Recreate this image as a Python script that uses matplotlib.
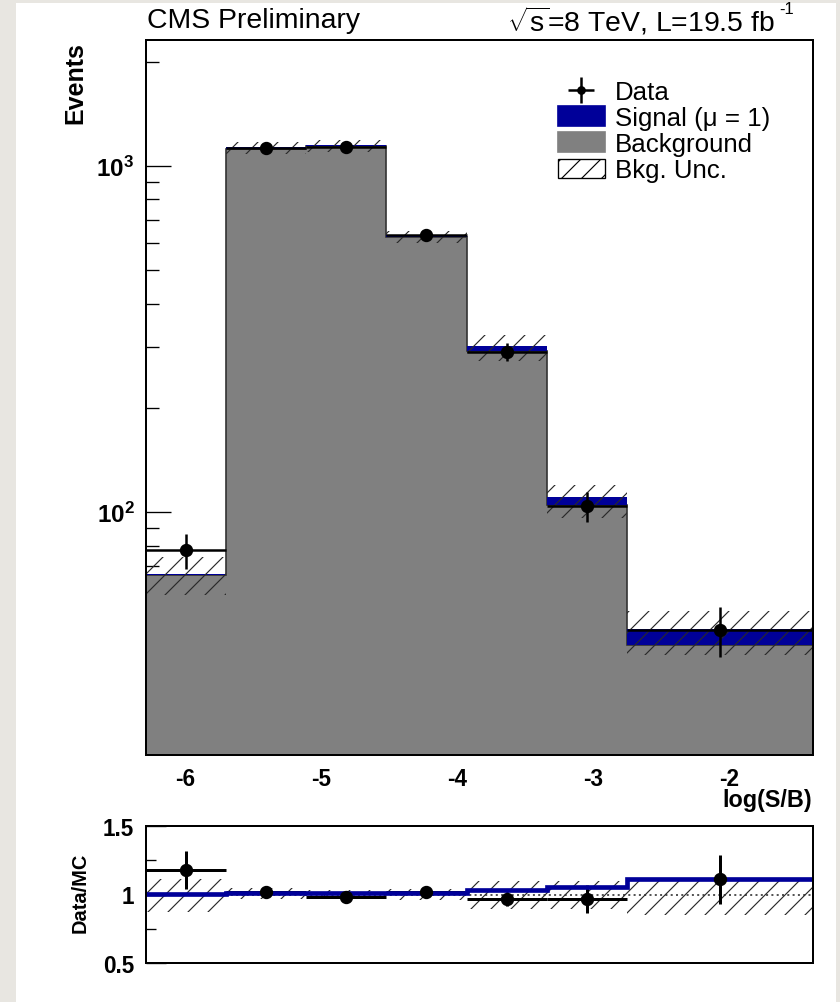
import numpy as np
import matplotlib
matplotlib.use("Agg")
import matplotlib.pyplot as plt
from matplotlib.patches import Patch, Rectangle
from matplotlib.ticker import FixedLocator, NullFormatter, LogLocator, FuncFormatter

plt.rcParams['font.family'] = ['Liberation Sans', 'DejaVu Sans']
plt.rcParams['mathtext.fontset'] = 'custom'
plt.rcParams['mathtext.rm'] = 'Liberation Sans'
plt.rcParams['mathtext.it'] = 'Liberation Sans'
plt.rcParams['mathtext.bf'] = 'Liberation Sans:bold'
plt.rcParams['axes.unicode_minus'] = False
plt.rcParams['hatch.linewidth'] = 0.7
plt.rcParams['hatch.color'] = '#2a2a2a'

# bins in log(S/B)
edges = np.array([-6.29, -5.70, -5.11, -4.52, -3.93, -3.34, -2.75, -1.38])
bkg = np.array([66.0, 1120.0, 1140.0, 622.0, 292.0, 105.0, 41.3])
sig = np.array([0.3, 13.0, 9.0, 9.0, 10.0, 6.0, 4.6])
band_up = np.array([74.0, 1170.0, 1185.0, 650.0, 325.0, 120.0, 52.0])
band_dn = np.array([57.5, 1080.0, 1100.0, 600.0, 273.0, 96.0, 38.8])
data = np.array([77.6, 1128.0, 1135.0, 631.0, 291.0, 104.0, 45.7])
data_err = np.array([9.0, 34.0, 34.0, 25.0, 17.0, 10.0, 7.4])

# ratio panel
ratio = np.array([1.18, 1.02, 0.984, 1.02, 0.968, 0.968, 1.11])
ratio_err = np.array([0.14, 0.03, 0.03, 0.03, 0.05, 0.10, 0.18])
ratio_up = np.array([1.11, 1.044, 1.03, 1.04, 1.10, 1.10, 1.11])
ratio_dn = np.array([0.87, 0.968, 0.968, 0.96, 0.896, 0.896, 0.848])

centers = 0.5 * (edges[1:] + edges[:-1])
halfw = 0.5 * (edges[1:] - edges[:-1])

W, H = 840, 1003
fig = plt.figure(figsize=(W / 120, H / 120), dpi=120, facecolor='#e8e6e1')
fig.patches.append(Rectangle((16 / W, 0), 820 / W, 999 / H, transform=fig.transFigure,
                             facecolor='white', edgecolor='none', zorder=-5))

def fx(px):
    return px / W

def fy(py):
    return 1 - py / H

ax = fig.add_axes([fx(146), fy(756), fx(813) - fx(146), fy(41) - fy(756)])
ax2 = fig.add_axes([fx(146), fy(964), fx(813) - fx(146), fy(827) - fy(964)])

gray = '#808080'
blue = '#000099'

ax.set_axisbelow(True)
ax.set_yscale('log')
ax.stairs(bkg, edges, baseline=1, fill=True, facecolor=gray, edgecolor='none', zorder=2)
ax.stairs(bkg, edges, baseline=None, color='#333333', linewidth=1.0, zorder=2.1)
ax.stairs(bkg + sig, edges, baseline=bkg, fill=True, facecolor=blue, edgecolor='none', zorder=2.2)
ax.stairs(band_up, edges, baseline=band_dn, fill=True, facecolor='none',
          edgecolor='#2a2a2a', hatch='//', linewidth=0, zorder=2.3)
eb = ax.errorbar(centers, data, xerr=halfw, yerr=data_err, fmt='o', color='black',
                 markersize=7, elinewidth=1.5, capsize=0, zorder=3, label='Data')

ax.set_xlim(-6.287, -1.382)
ax.set_ylim(19.9, 2310)
ax.set_xticks([-6, -5, -4, -3, -2])
ax.yaxis.set_major_locator(FixedLocator([100, 1000]))
ax.yaxis.set_major_formatter(FuncFormatter(lambda v, p: r'$\mathbf{10^{%d}}$' % round(np.log10(v))))
ax.yaxis.set_minor_locator(LogLocator(base=10, subs=np.arange(2, 10)))
ax.yaxis.set_minor_formatter(NullFormatter())
ax.tick_params(axis='both', which='major', direction='in', length=15, width=0.8,
               labelsize=13.5, pad=7)
ax.tick_params(axis='y', which='major', labelsize=14.5)
ax.tick_params(axis='y', which='minor', direction='in', length=8, width=0.8)
ax.tick_params(axis='x', which='both', top=False)
for lbl in ax.get_xticklabels() + ax.get_yticklabels():
    lbl.set_fontweight('bold')
for s in ax.spines.values():
    s.set_linewidth(1.2)
    s.set_zorder(4)

handles = [eb,
           Patch(facecolor=blue, edgecolor=blue),
           Patch(facecolor=gray, edgecolor=gray),
           Patch(facecolor='white', edgecolor='black', hatch='//', linewidth=0.8)]
labels = ['Data', 'Signal (\u03bc = 1)', 'Background', 'Bkg. Unc.']
leg = ax.legend(handles, labels, loc='upper left', bbox_to_anchor=(0.6177, 0.944),
                frameon=False, fontsize=15.5, handlelength=1.8, handleheight=0.78,
                handletextpad=0.4, labelspacing=0.08, borderpad=0, borderaxespad=0,
                markerscale=0.6)

# ratio panel
ax2.set_axisbelow(True)
ax2.axhline(1.0, color='#555555', linestyle=':', linewidth=1.2, zorder=2)
ax2.stairs(ratio_up, edges, baseline=ratio_dn, fill=True, facecolor='none',
           edgecolor='#2a2a2a', hatch='//', linewidth=0, zorder=2.3)
ax2.errorbar(centers, ratio, xerr=halfw, yerr=ratio_err, fmt='none', ecolor='black',
             elinewidth=1.8, capsize=0, zorder=3)
ax2.stairs((bkg + sig) / bkg, edges, baseline=None, color=blue, linewidth=2.8, zorder=3.5)
ax2.plot(centers, ratio, 'o', color='black', markersize=7, zorder=4)
ax2.set_xlim(-6.287, -1.382)
ax2.set_ylim(0.5, 1.5)
ax2.set_xticks([])
ax2.set_yticks([0.5, 1.0, 1.5])
ax2.set_yticklabels(['0.5', '1', '1.5'])
ax2.yaxis.set_minor_locator(FixedLocator([0.75, 1.25]))
ax2.tick_params(axis='y', which='major', direction='in', length=12, width=0.8,
                labelsize=13.5, pad=7)
ax2.tick_params(axis='y', which='minor', direction='in', length=6, width=0.8)
for lbl in ax2.get_yticklabels():
    lbl.set_fontweight('bold')
for s in ax2.spines.values():
    s.set_linewidth(1.2)
    s.set_zorder(4)

# labels and header
fig.text(fx(75), fy(42), 'Events', rotation=90, ha='center', va='top',
         fontsize=15, fontweight='bold')
fig.text(fx(812), fy(801), 'log(S/B)', ha='right', va='center', fontsize=14, fontweight='bold')
fig.text(fx(80), fy(893), 'Data/MC', rotation=90, ha='center', va='center',
         fontsize=12, fontweight='bold')
fig.text(fx(147), fy(21), 'CMS Preliminary', ha='left', va='center', fontsize=17)
fig.text(fx(775), fy(21), r'$\sqrt{\mathrm{s}}$=8 TeV, L=19.5 fb', ha='right', va='center',
         fontsize=17)
fig.text(fx(779), fy(10), '-1', ha='left', va='center', fontsize=10)

fig.savefig('out.png', dpi=120, facecolor=fig.get_facecolor())
